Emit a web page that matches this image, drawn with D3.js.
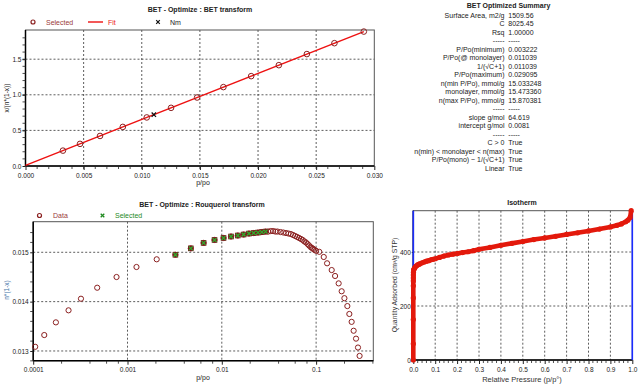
<!DOCTYPE html>
<html>
<head>
<meta charset="utf-8">
<script src="https://cdn.jsdelivr.net/npm/d3@7"></script>
<style>
  body { margin: 0; background: #fff; }
  svg { display: block; font-family: "Liberation Sans", Arial, sans-serif; }
  .tick text { font-size: 6.5px; fill: #222; }
  .domain { display: none; }
</style>
</head>
<body>
<div id="chart"></div>
<script>
// ---- BET transform ----
const betX = [0.00322, 0.00469, 0.00641, 0.00837, 0.01043, 0.01252, 0.01476,
  0.01702, 0.01941, 0.02179, 0.0242, 0.02657, 0.0291];
const betY = [0.216, 0.311, 0.422, 0.549, 0.682, 0.817, 0.962,
  1.108, 1.262, 1.416, 1.572, 1.725, 1.888];
const nmX = 0.011039;
const nmY = 0.721;
const fitSlope = 64.619;
const fitIntercept = 0.0081;
const betXTicks = [0, 0.005, 0.010, 0.015, 0.020, 0.025, 0.030];
const betYTicks = [0, 0.5, 1.0, 1.5];

// ---- Rouquerol transform ----
const rouqX = [0.000105, 0.000131, 0.000174, 0.000237, 0.000321, 0.000477, 0.000765,
  0.001245, 0.00204,
  0.00322, 0.00469, 0.00641, 0.00837, 0.01043, 0.01252, 0.01476, 0.01702, 0.01941,
  0.02179, 0.0242, 0.02657, 0.0291,
  0.031, 0.033, 0.035, 0.037, 0.039, 0.042, 0.045, 0.048, 0.051, 0.054, 0.057, 0.060,
  0.063, 0.066, 0.069, 0.072, 0.075, 0.078, 0.081, 0.084, 0.087, 0.090, 0.093, 0.096,
  0.100, 0.108, 0.1205, 0.1307, 0.1463, 0.1589, 0.1734, 0.1866, 0.1995, 0.2144,
  0.2251, 0.2381, 0.25, 0.265, 0.278, 0.289];
const rouqY = [0.013085, 0.013323, 0.01358, 0.013824, 0.014059, 0.014282, 0.014499,
  0.014702, 0.014858,
  0.01495, 0.01508, 0.01519, 0.01525, 0.01529, 0.01532, 0.01534, 0.01536, 0.01538,
  0.01539, 0.01540, 0.01541, 0.01542,
  0.01542, 0.01543, 0.01543, 0.01542, 0.01542, 0.01541, 0.01540, 0.01539, 0.01538,
  0.01537, 0.01535, 0.01533, 0.01531, 0.01529, 0.01527, 0.01525, 0.01522, 0.01520,
  0.01517, 0.01514, 0.01511, 0.01509, 0.01507, 0.01505,
  0.01503, 0.01501, 0.014905, 0.014777, 0.01464, 0.01452, 0.01437, 0.01421, 0.01407,
  0.01391, 0.01375, 0.01359, 0.01341, 0.01325, 0.01307, 0.0129];
const rouqSelX = [0.00322, 0.00469, 0.00641, 0.00837, 0.01043, 0.01252, 0.01476,
  0.01702, 0.01941, 0.02179, 0.0242, 0.02657, 0.0291];
const rouqSelY = [0.01495, 0.01508, 0.01519, 0.01525, 0.01529, 0.01532, 0.01534,
  0.01536, 0.01538, 0.01539, 0.01540, 0.01541, 0.01542];
const rouqXTicks = [0.0001, 0.001, 0.01, 0.1];
const rouqXTickLabels = ['0.0001', '0.001', '0.01', '0.1'];
const rouqYTicks = [0.013, 0.014, 0.015];

// ---- Isotherm ----
const isoP = [0, 0.000002, 0.00001, 0.00003, 0.00006, 0.000105, 0.000174, 0.000321,
  0.000765, 0.00204, 0.00322, 0.0064, 0.0104, 0.0148, 0.0194, 0.0242, 0.0291, 0.04,
  0.05, 0.06, 0.07, 0.08, 0.09, 0.1, 0.12, 0.14, 0.16, 0.18, 0.2, 0.225, 0.25, 0.275,
  0.3, 0.35, 0.4, 0.45, 0.5, 0.55, 0.6, 0.65, 0.7, 0.75, 0.8, 0.85, 0.9, 0.93, 0.95,
  0.97, 0.98, 0.99, 0.995];
const isoQ = [0, 60, 150, 230, 275, 293, 304, 315, 325, 334, 337, 341, 346, 349, 352,
  354, 356, 360, 363, 366, 368, 371, 373, 375, 380, 385, 389, 392, 394, 398, 401, 405,
  410, 417, 425, 432, 439, 446, 452, 458, 465, 471, 478, 485, 493, 499, 504, 512, 518,
  528, 553];
const isoXTicks = [0, 0.1, 0.2, 0.3, 0.4, 0.5, 0.6, 0.7, 0.8, 0.9, 1.0];
const isoYTicks = [0, 200, 400];

// ---- Summary ----
const summaryLabels = ['Surface Area, m2/g', 'C', 'Rsq', '-----', 'P/Po(minimum)',
  'P/Po(@ monolayer)', '1/(\u221AC+1)', 'P/Po(maximum)', 'n(min P/Po), mmol/g',
  'monolayer, mmol/g', 'n(max P/Po), mmol/g', '-----', 'slope g/mol', 'intercept g/mol',
  '-----', 'C > 0', 'n(min) < monolayer < n(max)', 'P/Po(mono) ~ 1/(\u221AC+1)', 'Linear'];
const summaryValues = ['1509.56', '8025.45', '1.00000', '-----', '0.003222', '0.011039',
  '0.011039', '0.029095', '15.033248', '15.473360', '15.870381', '-----', '64.619',
  '0.0081', '-----', 'True', 'True', 'True', 'True'];

const DARKRED = '#8b2020';
const GREEN = '#1f8a1f';

const svg = d3.select('#chart').append('svg')
  .attr('width', 640).attr('height', 386);

function crossPath(s) {
  return `M${-s},${-s}L${s},${s}M${-s},${s}L${s},${-s}`;
}

function grid(g, x, y, xVals, yVals, x0, x1, y0, y1) {
  g.selectAll('.gx').data(xVals).enter().append('line')
    .attr('x1', d => x(d)).attr('x2', d => x(d)).attr('y1', y0).attr('y2', y1)
    .attr('stroke', '#333').attr('stroke-dasharray', '2,2').attr('stroke-width', 0.8);
  g.selectAll('.gy').data(yVals).enter().append('line')
    .attr('y1', d => y(d)).attr('y2', d => y(d)).attr('x1', x0).attr('x2', x1)
    .attr('stroke', '#333').attr('stroke-dasharray', '2,2').attr('stroke-width', 0.8);
}

function minorTicks(g, vals, pos, fixed, vertical) {
  g.selectAll(null).data(vals).enter().append('line')
    .attr('x1', d => vertical ? fixed : pos(d)).attr('x2', d => vertical ? fixed - 3 : pos(d))
    .attr('y1', d => vertical ? pos(d) : fixed).attr('y2', d => vertical ? pos(d) : fixed + 3)
    .attr('stroke', '#222').attr('stroke-width', 0.8);
}

function frame(g, l, r, t, b) {
  g.append('rect').attr('x', l).attr('y', t).attr('width', r - l).attr('height', b - t)
    .attr('fill', 'none').attr('stroke', '#555').attr('stroke-width', 1);
  g.append('line').attr('x1', l).attr('x2', l).attr('y1', t).attr('y2', b)
    .attr('stroke', '#000').attr('stroke-width', 1.5);
  g.append('line').attr('x1', l).attr('x2', r).attr('y1', b).attr('y2', b)
    .attr('stroke', '#000').attr('stroke-width', 1.5);
}

function text(g, x, y, s, opts = {}) {
  return g.append('text').attr('x', x).attr('y', y).text(s)
    .attr('font-size', opts.size || 7)
    .attr('font-weight', opts.bold ? 'bold' : null)
    .attr('text-anchor', opts.anchor || 'start')
    .attr('fill', opts.color || '#222')
    .attr('transform', opts.rotate ? `rotate(-90,${x},${y})` : null);
}

// ---------------- BET transform chart ----------------
(function betChart() {
  const L = 25.5, R = 374.3, T = 30, B = 166;
  const x = d3.scaleLinear().domain([0, 0.030]).range([L, R]);
  const y = d3.scaleLinear().domain([0, 1.91]).range([B, T]);
  const g = svg.append('g');

  grid(g, x, y, betXTicks.slice(1, -1), betYTicks.slice(1), L, R, T, B);
  frame(g, L, R, T, B);

  g.append('g').attr('transform', `translate(0,${B})`)
    .call(d3.axisBottom(x).tickValues(betXTicks).tickFormat(d3.format('.3f')).tickSize(4).tickPadding(3));
  g.append('g').attr('transform', `translate(${L},0)`)
    .call(d3.axisLeft(y).tickValues(betYTicks).tickFormat(d3.format('.1f')).tickSize(3).tickPadding(1));
  g.selectAll('.tick line').attr('stroke', '#222');

  minorTicks(g, d3.range(0.001, 0.030, 0.001), x, B, false);
  minorTicks(g, d3.range(0.1, 1.9, 0.1), y, L, true);

  // fit line
  const fitEnd = betX[betX.length - 1];
  g.append('line')
    .attr('x1', x(0)).attr('y1', y(fitIntercept))
    .attr('x2', x(fitEnd)).attr('y2', y(fitSlope * fitEnd + fitIntercept))
    .attr('stroke', '#ee1111').attr('stroke-width', 1.4);

  g.selectAll('.pt').data(betX).enter().append('circle')
    .attr('cx', d => x(d)).attr('cy', (d, i) => y(betY[i])).attr('r', 2.8)
    .attr('fill', 'none').attr('stroke', DARKRED).attr('stroke-width', 1);

  g.append('path').attr('d', crossPath(2.2))
    .attr('transform', `translate(${x(nmX)},${y(nmY)})`)
    .attr('stroke', '#111').attr('stroke-width', 1.2);

  text(g, 200, 12, 'BET - Optimize : BET transform', { anchor: 'middle', bold: true, size: 7 });
  // legend
  g.append('circle').attr('cx', 33).attr('cy', 22).attr('r', 2).attr('fill', 'none')
    .attr('stroke', DARKRED).attr('stroke-width', 1.2);
  text(g, 46, 24.5, 'Selected', { color: '#9a3a3a', size: 7 });
  g.append('line').attr('x1', 88).attr('x2', 103).attr('y1', 22).attr('y2', 22)
    .attr('stroke', '#ee1111').attr('stroke-width', 1.4);
  text(g, 108, 24.5, 'Fit', { color: '#ee2222', size: 7 });
  g.append('path').attr('d', crossPath(1.8)).attr('transform', 'translate(158,22)')
    .attr('stroke', '#111').attr('stroke-width', 1.2);
  text(g, 170, 24.5, 'Nm', { size: 7 });

  text(g, 9, 98, 'x/(n*(1-x))', { anchor: 'middle', rotate: true, size: 6.5 });
  text(g, 203, 185, 'p/po', { anchor: 'middle', size: 7, color: '#222' });
})();

// ---------------- Rouquerol transform chart ----------------
(function rouqChart() {
  const L = 33.2, R = 373.3, T = 221.7, B = 360.7;
  const x = d3.scaleLog().domain([0.0001, 0.404]).range([L, R]);
  const y = d3.scaleLinear().domain([0.012803, 0.01562]).range([B, T]);
  const g = svg.append('g');

  grid(g, x, y, rouqXTicks.slice(1), rouqYTicks, L, R, T, B);
  frame(g, L, R, T, B);

  g.append('g').attr('transform', `translate(0,${B})`)
    .call(d3.axisBottom(x).tickValues(rouqXTicks).tickFormat((d, i) => rouqXTickLabels[i]).tickSize(4).tickPadding(3));
  g.append('g').attr('transform', `translate(${L},0)`)
    .call(d3.axisLeft(y).tickValues(rouqYTicks).tickFormat(d3.format('.3f')).tickSize(3).tickPadding(1.5));
  g.selectAll('.tick line').attr('stroke', '#222');

  const logMinor = [];
  [0.0001, 0.001, 0.01, 0.1].forEach(dec => [2, 4, 6, 8].forEach(m => {
    if (dec * m < 0.404) logMinor.push(dec * m);
  }));
  minorTicks(g, logMinor, x, B, false);
  minorTicks(g, d3.range(0.0128, 0.0156, 0.0002).filter(v => Math.abs(v * 1000 - Math.round(v * 1000)) > 1e-6), y, L, true);

  g.selectAll('.pt').data(rouqX).enter().append('circle')
    .attr('cx', d => x(d)).attr('cy', (d, i) => y(rouqY[i])).attr('r', 2.6)
    .attr('fill', 'none').attr('stroke', DARKRED).attr('stroke-width', 1);

  g.selectAll('.sel').data(rouqSelX).enter().append('rect')
    .attr('x', d => x(d) - 2.8).attr('y', (d, i) => y(rouqSelY[i]) - 2.8)
    .attr('width', 5.6).attr('height', 5.6).attr('fill', '#7a1c1c');
  g.selectAll('.selx').data(rouqSelX).enter().append('path')
    .attr('d', crossPath(2))
    .attr('transform', (d, i) => `translate(${x(d)},${y(rouqSelY[i])})`)
    .attr('stroke', '#2fae2f').attr('stroke-width', 1.2);

  text(g, 202, 207, 'BET - Optimize : Rouquerol transform', { anchor: 'middle', bold: true, size: 7 });
  g.append('circle').attr('cx', 39.5).attr('cy', 215.5).attr('r', 2).attr('fill', 'none')
    .attr('stroke', DARKRED).attr('stroke-width', 1.2);
  text(g, 53, 218, 'Data', { color: '#9a3a3a', size: 7 });
  g.append('path').attr('d', crossPath(1.8)).attr('transform', 'translate(102.5,215.5)')
    .attr('stroke', GREEN).attr('stroke-width', 1.3);
  text(g, 115, 218, 'Selected', { color: GREEN, size: 7 });

  text(g, 8.5, 290, 'n*(1-x)', { anchor: 'middle', rotate: true, size: 6.5, color: '#3f74a8' });
  text(g, 203, 380, 'p/po', { anchor: 'middle', size: 7, color: '#222' });
})();

// ---------------- Isotherm chart ----------------
(function isoChart() {
  const L = 413.3, R = 632.3, T = 210.7, B = 360;
  const x = d3.scaleLinear().domain([0, 1]).range([L, R]);
  const y = d3.scaleLinear().domain([0, 553]).range([B, T]);
  const g = svg.append('g');

  grid(g, x, y, isoXTicks.slice(1, -1), isoYTicks.slice(1), L, R, T, B);
  frame(g, L, R, T, B);

  g.append('g').attr('transform', `translate(0,${B})`)
    .call(d3.axisBottom(x).tickValues(isoXTicks).tickFormat(d3.format('.1f')).tickSize(4).tickPadding(3));
  g.append('g').attr('transform', `translate(${L},0)`)
    .call(d3.axisLeft(y).tickValues(isoYTicks).tickFormat(d3.format('d')).tickSize(1.5).tickPadding(1));
  g.selectAll('.tick line').attr('stroke', '#222');

  minorTicks(g, d3.range(0.02, 1, 0.02).filter(v => Math.abs(v * 10 - Math.round(v * 10)) > 1e-6), x, B, false);

  // range markers
  g.append('line').attr('x1', L).attr('x2', L).attr('y1', T).attr('y2', B)
    .attr('stroke', '#1a2cff').attr('stroke-width', 1.6);
  g.append('line').attr('x1', R).attr('x2', R).attr('y1', T).attr('y2', B)
    .attr('stroke', '#1a2cff').attr('stroke-width', 1.6);

  const line = d3.line().x(d => x(d[0])).y(d => y(d[1]));
  const pts = isoP.map((p, i) => [p, isoQ[i]]);
  g.append('path').attr('d', line(pts)).attr('fill', 'none')
    .attr('stroke', '#e3190c').attr('stroke-width', 4.6).attr('stroke-linejoin', 'round');
  g.selectAll('.pt').data(pts).enter().append('circle')
    .attr('cx', d => x(d[0])).attr('cy', d => y(d[1])).attr('r', 2.6)
    .attr('fill', '#e3190c');

  text(g, 522, 205, 'Isotherm', { anchor: 'middle', bold: true, size: 7 });
  text(g, 397, 285, 'Quantity Adsorbed (cm\u00B3/g STP)', { anchor: 'middle', rotate: true, size: 6.8, color: '#333' });
  text(g, 522, 382, 'Relative Pressure (p/p\u00B0)', { anchor: 'middle', size: 7.5, color: '#333' });
})();

// ---------------- Summary ----------------
(function summary() {
  const g = svg.append('g');
  const rowY = d3.scaleLinear().domain([0, summaryLabels.length - 1]).range([17.5, 170.8]);
  text(g, 508.5, 8, 'BET Optimized Summary', { anchor: 'middle', bold: true, size: 7 });
  g.selectAll('.lab').data(summaryLabels).enter().append('text')
    .attr('x', 504.5).attr('y', (d, i) => rowY(i)).text(d => d)
    .attr('text-anchor', 'end').attr('font-size', 7).attr('fill', '#222');
  g.selectAll('.val').data(summaryValues).enter().append('text')
    .attr('x', 508.3).attr('y', (d, i) => rowY(i)).text(d => d)
    .attr('font-size', 7).attr('fill', '#222');
})();
</script>
</body>
</html>
